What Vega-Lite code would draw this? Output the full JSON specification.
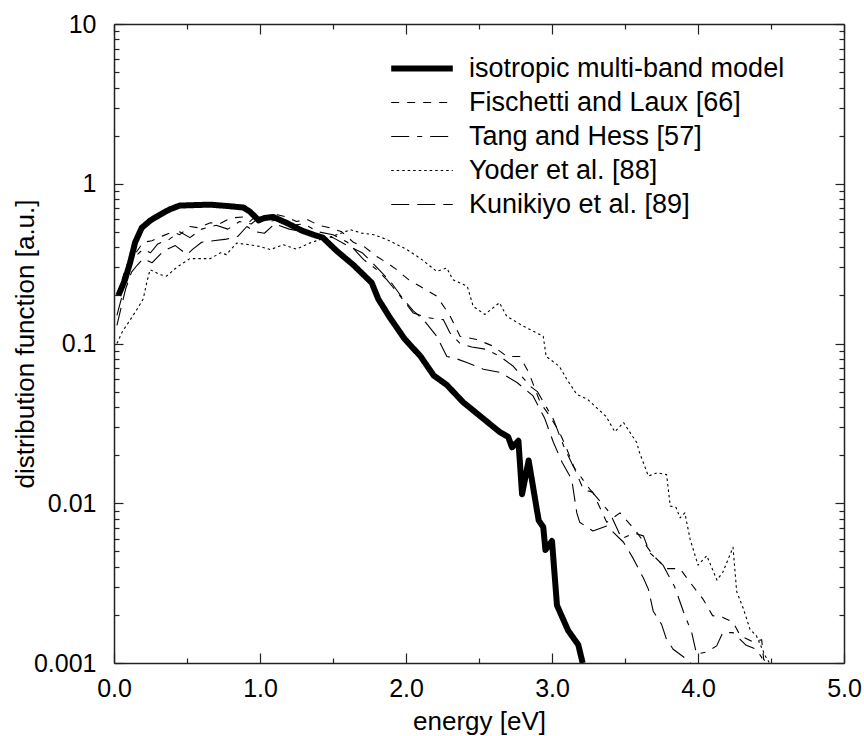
{
 "$schema": "https://vega.github.io/schema/vega-lite/v6.json",
 "width": 730,
 "height": 639,
 "autosize": {"type": "none"},
 "padding": {"left": 114, "top": 24, "right": 20, "bottom": 73},
 "background": "white",
 "config": {
  "view": {"stroke": null},
  "font": "Liberation Sans",
  "axis": {
   "grid": false,
   "domainColor": "#222",
   "domainWidth": 1.5,
   "tickColor": "#222",
   "tickWidth": 1.2,
   "labelFont": "Liberation Sans",
   "labelFontSize": 25,
   "labelColor": "black",
   "titleFont": "Liberation Sans",
   "titleFontSize": 26,
   "titleFontWeight": "normal",
   "titleColor": "black"
  }
 },
 "datasets": {
  "names": [
   {"k": 1, "series": "isotropic multi-band model"},
   {"k": 2, "series": "Fischetti and Laux [66]"},
   {"k": 3, "series": "Tang and Hess [57]"},
   {"k": 4, "series": "Yoder et al. [88]"},
   {"k": 5, "series": "Kunikiyo et al. [89]"}
  ],
  "curves": [
   {"k":1,"E":0.03,"f":0.2},{"k":1,"E":0.075,"f":0.25},{"k":1,"E":0.11,"f":0.32},{"k":1,"E":0.145,"f":0.43},{"k":1,"E":0.19,"f":0.53},{"k":1,"E":0.25,"f":0.59},{"k":1,"E":0.315,"f":0.64},{"k":1,"E":0.38,"f":0.69},{"k":1,"E":0.45,"f":0.73},{"k":1,"E":0.55,"f":0.735},{"k":1,"E":0.66,"f":0.74},{"k":1,"E":0.78,"f":0.725},{"k":1,"E":0.886,"f":0.71},{"k":1,"E":0.93,"f":0.67},{"k":1,"E":0.96,"f":0.63},{"k":1,"E":0.99,"f":0.59},{"k":1,"E":1.03,"f":0.61},{"k":1,"E":1.09,"f":0.62},{"k":1,"E":1.18,"f":0.57},{"k":1,"E":1.285,"f":0.51},{"k":1,"E":1.365,"f":0.48},{"k":1,"E":1.43,"f":0.46},{"k":1,"E":1.525,"f":0.38},{"k":1,"E":1.64,"f":0.31},{"k":1,"E":1.765,"f":0.24},{"k":1,"E":1.81,"f":0.19},{"k":1,"E":1.89,"f":0.145},{"k":1,"E":1.99,"f":0.107},{"k":1,"E":2.1,"f":0.083},{"k":1,"E":2.19,"f":0.063},{"k":1,"E":2.28,"f":0.055},{"k":1,"E":2.39,"f":0.043},{"k":1,"E":2.51,"f":0.035},{"k":1,"E":2.64,"f":0.028},{"k":1,"E":2.7,"f":0.026},{"k":1,"E":2.726,"f":0.0224},{"k":1,"E":2.77,"f":0.0246},{"k":1,"E":2.795,"f":0.0114},{"k":1,"E":2.84,"f":0.0185},{"k":1,"E":2.863,"f":0.0139},{"k":1,"E":2.885,"f":0.0105},{"k":1,"E":2.909,"f":0.0078},{"k":1,"E":2.94,"f":0.0071},{"k":1,"E":2.955,"f":0.0051},{"k":1,"E":3.0,"f":0.0058},{"k":1,"E":3.034,"f":0.0023},{"k":1,"E":3.11,"f":0.0016},{"k":1,"E":3.18,"f":0.0013},{"k":1,"E":3.21,"f":0.001},
   {"k":2,"E":0.02,"f":0.2},{"k":2,"E":0.05,"f":0.24},{"k":2,"E":0.08,"f":0.3},{"k":2,"E":0.11,"f":0.34},{"k":2,"E":0.15,"f":0.37},{"k":2,"E":0.2,"f":0.43},{"k":2,"E":0.26,"f":0.44},{"k":2,"E":0.33,"f":0.47},{"k":2,"E":0.4,"f":0.5},{"k":2,"E":0.45,"f":0.48},{"k":2,"E":0.52,"f":0.54},{"k":2,"E":0.58,"f":0.53},{"k":2,"E":0.66,"f":0.57},{"k":2,"E":0.72,"f":0.56},{"k":2,"E":0.8,"f":0.61},{"k":2,"E":0.886,"f":0.62},{"k":2,"E":0.93,"f":0.58},{"k":2,"E":0.98,"f":0.64},{"k":2,"E":1.05,"f":0.6},{"k":2,"E":1.12,"f":0.64},{"k":2,"E":1.18,"f":0.62},{"k":2,"E":1.25,"f":0.58},{"k":2,"E":1.32,"f":0.6},{"k":2,"E":1.4,"f":0.55},{"k":2,"E":1.48,"f":0.53},{"k":2,"E":1.56,"f":0.5},{"k":2,"E":1.64,"f":0.43},{"k":2,"E":1.72,"f":0.4},{"k":2,"E":1.8,"f":0.35},{"k":2,"E":1.87,"f":0.32},{"k":2,"E":1.936,"f":0.29},{"k":2,"E":2.02,"f":0.25},{"k":2,"E":2.096,"f":0.228},{"k":2,"E":2.21,"f":0.198},{"k":2,"E":2.3,"f":0.15},{"k":2,"E":2.37,"f":0.111},{"k":2,"E":2.484,"f":0.106},{"k":2,"E":2.6,"f":0.096},{"k":2,"E":2.69,"f":0.083},{"k":2,"E":2.78,"f":0.083},{"k":2,"E":2.84,"f":0.066},{"k":2,"E":2.92,"f":0.0426},{"k":2,"E":2.986,"f":0.035},{"k":2,"E":3.05,"f":0.028},{"k":2,"E":3.1,"f":0.022},{"k":2,"E":3.16,"f":0.016},{"k":2,"E":3.215,"f":0.0122},{"k":2,"E":3.28,"f":0.0117},{"k":2,"E":3.375,"f":0.0076},{"k":2,"E":3.466,"f":0.0087},{"k":2,"E":3.58,"f":0.0066},{"k":2,"E":3.694,"f":0.0047},{"k":2,"E":3.785,"f":0.0039},{"k":2,"E":3.877,"f":0.0039},{"k":2,"E":3.945,"f":0.0032},{"k":2,"E":4.036,"f":0.0025},{"k":2,"E":4.1,"f":0.00198},{"k":2,"E":4.17,"f":0.00193},{"k":2,"E":4.24,"f":0.0018},{"k":2,"E":4.29,"f":0.00148},{"k":2,"E":4.38,"f":0.00135},{"k":2,"E":4.436,"f":0.0014},{"k":2,"E":4.45,"f":0.00105},{"k":2,"E":4.48,"f":0.001},
   {"k":3,"E":0.02,"f":0.15},{"k":3,"E":0.05,"f":0.19},{"k":3,"E":0.08,"f":0.26},{"k":3,"E":0.12,"f":0.32},{"k":3,"E":0.16,"f":0.36},{"k":3,"E":0.2,"f":0.39},{"k":3,"E":0.25,"f":0.37},{"k":3,"E":0.3,"f":0.42},{"k":3,"E":0.38,"f":0.45},{"k":3,"E":0.45,"f":0.5},{"k":3,"E":0.52,"f":0.46},{"k":3,"E":0.6,"f":0.52},{"k":3,"E":0.7,"f":0.55},{"k":3,"E":0.78,"f":0.52},{"k":3,"E":0.86,"f":0.58},{"k":3,"E":0.94,"f":0.56},{"k":3,"E":1.0,"f":0.62},{"k":3,"E":1.06,"f":0.58},{"k":3,"E":1.14,"f":0.6},{"k":3,"E":1.22,"f":0.55},{"k":3,"E":1.3,"f":0.56},{"k":3,"E":1.4,"f":0.5},{"k":3,"E":1.5,"f":0.48},{"k":3,"E":1.6,"f":0.43},{"k":3,"E":1.71,"f":0.335},{"k":3,"E":1.8,"f":0.29},{"k":3,"E":1.87,"f":0.25},{"k":3,"E":1.96,"f":0.198},{"k":3,"E":2.05,"f":0.155},{"k":3,"E":2.15,"f":0.145},{"k":3,"E":2.256,"f":0.141},{"k":3,"E":2.3,"f":0.117},{"k":3,"E":2.37,"f":0.1},{"k":3,"E":2.45,"f":0.095},{"k":3,"E":2.55,"f":0.092},{"k":3,"E":2.644,"f":0.083},{"k":3,"E":2.735,"f":0.072},{"k":3,"E":2.85,"f":0.054},{"k":3,"E":2.9,"f":0.05},{"k":3,"E":3.01,"f":0.0335},{"k":3,"E":3.08,"f":0.0228},{"k":3,"E":3.146,"f":0.017},{"k":3,"E":3.26,"f":0.0122},{"k":3,"E":3.397,"f":0.0087},{"k":3,"E":3.477,"f":0.006},{"k":3,"E":3.56,"f":0.0065},{"k":3,"E":3.626,"f":0.00625},{"k":3,"E":3.67,"f":0.0049},{"k":3,"E":3.76,"f":0.0041},{"k":3,"E":3.84,"f":0.003},{"k":3,"E":3.9,"f":0.0021},{"k":3,"E":3.957,"f":0.00155},{"k":3,"E":3.99,"f":0.00114},{"k":3,"E":4.06,"f":0.00117},{"k":3,"E":4.128,"f":0.00128},{"k":3,"E":4.17,"f":0.00155},{"k":3,"E":4.24,"f":0.00155},{"k":3,"E":4.33,"f":0.00129},{"k":3,"E":4.4,"f":0.00122},{"k":3,"E":4.46,"f":0.001},
   {"k":4,"E":0.02,"f":0.1},{"k":4,"E":0.06,"f":0.12},{"k":4,"E":0.11,"f":0.14},{"k":4,"E":0.16,"f":0.165},{"k":4,"E":0.2,"f":0.19},{"k":4,"E":0.224,"f":0.24},{"k":4,"E":0.247,"f":0.29},{"k":4,"E":0.315,"f":0.27},{"k":4,"E":0.36,"f":0.264},{"k":4,"E":0.43,"f":0.3},{"k":4,"E":0.52,"f":0.34},{"k":4,"E":0.66,"f":0.34},{"k":4,"E":0.73,"f":0.37},{"k":4,"E":0.77,"f":0.36},{"k":4,"E":0.84,"f":0.425},{"k":4,"E":0.93,"f":0.415},{"k":4,"E":1.0,"f":0.405},{"k":4,"E":1.07,"f":0.387},{"k":4,"E":1.16,"f":0.415},{"k":4,"E":1.25,"f":0.39},{"k":4,"E":1.34,"f":0.425},{"k":4,"E":1.42,"f":0.45},{"k":4,"E":1.5,"f":0.47},{"k":4,"E":1.62,"f":0.515},{"k":4,"E":1.7,"f":0.49},{"k":4,"E":1.78,"f":0.48},{"k":4,"E":1.87,"f":0.447},{"k":4,"E":2.0,"f":0.39},{"k":4,"E":2.1,"f":0.34},{"k":4,"E":2.21,"f":0.283},{"k":4,"E":2.28,"f":0.297},{"k":4,"E":2.32,"f":0.251},{"k":4,"E":2.42,"f":0.228},{"k":4,"E":2.46,"f":0.171},{"k":4,"E":2.54,"f":0.152},{"k":4,"E":2.64,"f":0.18},{"k":4,"E":2.69,"f":0.148},{"k":4,"E":2.8,"f":0.129},{"k":4,"E":2.94,"f":0.111},{"k":4,"E":2.96,"f":0.083},{"k":4,"E":3.05,"f":0.072},{"k":4,"E":3.1,"f":0.06},{"k":4,"E":3.17,"f":0.048},{"k":4,"E":3.24,"f":0.045},{"k":4,"E":3.37,"f":0.035},{"k":4,"E":3.43,"f":0.028},{"k":4,"E":3.49,"f":0.032},{"k":4,"E":3.58,"f":0.024},{"k":4,"E":3.6,"f":0.0207},{"k":4,"E":3.66,"f":0.0148},{"k":4,"E":3.72,"f":0.0155},{"k":4,"E":3.785,"f":0.0151},{"k":4,"E":3.81,"f":0.0096},{"k":4,"E":3.85,"f":0.0094},{"k":4,"E":3.877,"f":0.0081},{"k":4,"E":3.91,"f":0.0087},{"k":4,"E":3.945,"f":0.006},{"k":4,"E":4.0,"f":0.0041},{"k":4,"E":4.06,"f":0.0047},{"k":4,"E":4.13,"f":0.0033},{"k":4,"E":4.17,"f":0.0037},{"k":4,"E":4.24,"f":0.0053},{"k":4,"E":4.265,"f":0.0028},{"k":4,"E":4.31,"f":0.0022},{"k":4,"E":4.356,"f":0.00163},{"k":4,"E":4.4,"f":0.00148},{"k":4,"E":4.46,"f":0.00111},{"k":4,"E":4.49,"f":0.001},
   {"k":5,"E":0.02,"f":0.13},{"k":5,"E":0.05,"f":0.17},{"k":5,"E":0.08,"f":0.22},{"k":5,"E":0.12,"f":0.28},{"k":5,"E":0.16,"f":0.31},{"k":5,"E":0.2,"f":0.34},{"k":5,"E":0.26,"f":0.32},{"k":5,"E":0.34,"f":0.38},{"k":5,"E":0.42,"f":0.41},{"k":5,"E":0.5,"f":0.36},{"k":5,"E":0.54,"f":0.39},{"k":5,"E":0.6,"f":0.43},{"k":5,"E":0.68,"f":0.44},{"k":5,"E":0.77,"f":0.45},{"k":5,"E":0.85,"f":0.47},{"k":5,"E":0.91,"f":0.54},{"k":5,"E":0.97,"f":0.5},{"k":5,"E":1.03,"f":0.49},{"k":5,"E":1.1,"f":0.56},{"k":5,"E":1.2,"f":0.52},{"k":5,"E":1.3,"f":0.5},{"k":5,"E":1.4,"f":0.48},{"k":5,"E":1.5,"f":0.46},{"k":5,"E":1.6,"f":0.41},{"k":5,"E":1.7,"f":0.37},{"k":5,"E":1.8,"f":0.3},{"k":5,"E":1.9,"f":0.24},{"k":5,"E":1.98,"f":0.19},{"k":5,"E":2.05,"f":0.16},{"k":5,"E":2.12,"f":0.141},{"k":5,"E":2.21,"f":0.111},{"k":5,"E":2.28,"f":0.083},{"k":5,"E":2.35,"f":0.08},{"k":5,"E":2.416,"f":0.076},{"k":5,"E":2.53,"f":0.069},{"k":5,"E":2.644,"f":0.066},{"k":5,"E":2.76,"f":0.057},{"k":5,"E":2.87,"f":0.047},{"k":5,"E":2.95,"f":0.034},{"k":5,"E":3.01,"f":0.024},{"k":5,"E":3.07,"f":0.018},{"k":5,"E":3.135,"f":0.0141},{"k":5,"E":3.17,"f":0.0087},{"k":5,"E":3.19,"f":0.0076},{"k":5,"E":3.28,"f":0.0067},{"k":5,"E":3.375,"f":0.0072},{"k":5,"E":3.49,"f":0.0057},{"k":5,"E":3.557,"f":0.0045},{"k":5,"E":3.626,"f":0.0034},{"k":5,"E":3.66,"f":0.0029},{"k":5,"E":3.694,"f":0.0021},{"k":5,"E":3.75,"f":0.00175},{"k":5,"E":3.785,"f":0.0014},{"k":5,"E":3.83,"f":0.00122},{"k":5,"E":3.92,"f":0.00106},{"k":5,"E":3.95,"f":0.001}
  ]
 },
 "data": {"name": "curves"},
 "transform": [
  {"lookup": "k", "from": {"data": {"name": "names"}, "key": "k", "fields": ["series"]}}
 ],
 "layer": [
  {
   "mark": {"type": "line", "color": "black", "strokeJoin": "round", "clip": true},
   "encoding": {
    "x": {
     "field": "E", "type": "quantitative",
     "scale": {"domain": [0, 5], "nice": false, "zero": false},
     "axis": {
      "orient": "bottom",
      "values": [0, 0.5, 1, 1.5, 2, 2.5, 3, 3.5, 4, 4.5, 5],
      "labelExpr": "datum.value % 1 === 0 ? format(datum.value, '.1f') : ''",
      "tickSize": {"condition": {"test": "datum.value % 1 === 0", "value": -10}, "value": -5},
      "labelPadding": 23,
      "labelFlush": false,
      "labelOverlap": false,
      "title": "energy [eV]",
      "titleX": 365,
      "titleY": 66,
      "titleBaseline": "alphabetic"
     }
    },
    "y": {
     "field": "f", "type": "quantitative",
     "scale": {"type": "log", "domain": [0.001, 10], "nice": false},
     "axis": {
      "orient": "left",
      "values": [0.001,0.002,0.003,0.004,0.005,0.006,0.007,0.008,0.009,0.01,0.02,0.03,0.04,0.05,0.06,0.07,0.08,0.09,0.1,0.2,0.3,0.4,0.5,0.6,0.7,0.8,0.9,1,2,3,4,5,6,7,8,9,10],
      "labelExpr": "indexof([0.001,0.01,0.1,1,10], datum.value) >= 0 ? toString(datum.value) : ''",
      "tickSize": {"condition": {"test": "indexof([0.001,0.01,0.1,1,10], datum.value) >= 0", "value": -9}, "value": -5},
      "labelPadding": 27,
      "labelFlush": false,
      "labelOverlap": false,
      "labelBaseline": "middle",
      "title": "distribution function [a.u.]",
      "titleX": -81,
      "titleY": 319.5,
      "titleBaseline": "alphabetic"
     }
    },
    "strokeDash": {
     "field": "series", "type": "nominal",
     "scale": {
      "domain": ["isotropic multi-band model", "Fischetti and Laux [66]", "Tang and Hess [57]", "Yoder et al. [88]", "Kunikiyo et al. [89]"],
      "range": [[1, 0], [8, 8], [18, 8, 5, 8], [2.5, 3], [18, 8]]
     },
     "legend": {
      "orient": "none", "legendX": 294.5, "legendY": 31, "title": null,
      "symbolType": "M-3.85,0H3.85", "symbolSize": 256,
      "symbolStrokeColor": "black",
      "labelFont": "Liberation Sans", "labelFontSize": 27, "labelColor": "black",
      "labelOffset": 33.5, "rowPadding": 6, "padding": 0, "labelLimit": 600
     }
    },
    "strokeWidth": {
     "field": "series", "type": "nominal",
     "scale": {
      "type": "ordinal",
      "domain": ["isotropic multi-band model", "Fischetti and Laux [66]", "Tang and Hess [57]", "Yoder et al. [88]", "Kunikiyo et al. [89]"],
      "range": [6, 1.1, 1.1, 1.1, 1.1]
     },
     "legend": {
      "orient": "none", "legendX": 294.5, "legendY": 31, "title": null,
      "symbolType": "M-3.85,0H3.85", "symbolSize": 256,
      "symbolStrokeColor": "black",
      "labelFont": "Liberation Sans", "labelFontSize": 27, "labelColor": "black",
      "labelOffset": 33.5, "rowPadding": 6, "padding": 0, "labelLimit": 600
     }
    }
   }
  },
  {
   "mark": {"type": "point", "opacity": 0},
   "encoding": {
    "x": {
     "field": "E", "type": "quantitative",
     "axis": {
      "orient": "top",
      "values": [0, 0.5, 1, 1.5, 2, 2.5, 3, 3.5, 4, 4.5, 5],
      "labels": false,
      "tickSize": {"condition": {"test": "datum.value % 1 === 0", "value": -10}, "value": -5},
      "title": null
     }
    },
    "y": {
     "field": "f", "type": "quantitative",
     "axis": {
      "orient": "right",
      "values": [0.001,0.002,0.003,0.004,0.005,0.006,0.007,0.008,0.009,0.01,0.02,0.03,0.04,0.05,0.06,0.07,0.08,0.09,0.1,0.2,0.3,0.4,0.5,0.6,0.7,0.8,0.9,1,2,3,4,5,6,7,8,9,10],
      "labels": false,
      "tickSize": {"condition": {"test": "indexof([0.001,0.01,0.1,1,10], datum.value) >= 0", "value": -9}, "value": -5},
      "title": null
     }
    }
   }
  }
 ],
 "resolve": {"axis": {"x": "independent", "y": "independent"}}
}
